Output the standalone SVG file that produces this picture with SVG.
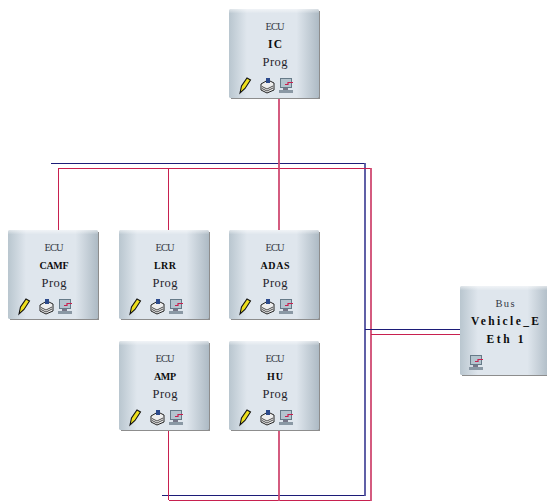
<svg xmlns="http://www.w3.org/2000/svg" width="547" height="501" viewBox="0 0 547 501">
<style>
text{font-family:"Liberation Serif",serif;text-anchor:middle}
.t{font-size:10.500px;fill:#333843}
.n{font-size:11.500px;font-weight:bold;fill:#0c0c0c}
.s{font-size:10px;font-weight:bold;fill:#0c0c0c}
.p{font-size:12.500px;fill:#1f232b}
.r{fill:none;stroke:#c8204f;stroke-width:1}
.rs{fill:none;stroke:#d04a72;stroke-width:1.800}
.b{fill:none;stroke:#1c1c78;stroke-width:1}
.bs{fill:none;stroke:#4f4f9e;stroke-width:1.800}
</style>
<defs>
<linearGradient id="g" x1="0" x2="1" y1="0" y2="0">
<stop offset="0" stop-color="#b9c6cf"/><stop offset=".2" stop-color="#dfe6ed"/><stop offset=".75" stop-color="#dfe6ed"/><stop offset="1" stop-color="#adbac4"/>
</linearGradient>
<linearGradient id="h" x1="0" x2="0" y1="0" y2="1">
<stop offset="0" stop-color="#fff" stop-opacity=".55"/><stop offset=".05" stop-color="#fff" stop-opacity="0"/>
</linearGradient>
<g id="box"><path d="M2 2H91V90H2Z" fill="#8d8d8d"/><path d="M1 0H89L90 1V88L89 89H1L0 88V1Z" fill="url(#g)"/><rect width="90" height="89" fill="url(#h)"/></g>
<g id="pen"><path d="M0 15 L1.500 8 L7 0 L10.500 2 L5 10.500 Z" fill="#efe01e" stroke="#111" stroke-width="1.100"/></g>
<g id="stack"><path d="M1 6 L8 2 L14 5 L14 12 L7 15 L1 12 Z" fill="#eee" stroke="#222"/><path d="M2 8.500 L7 11 L13 8 M2 10.500 L7 13 L13 10" fill="none" stroke="#222" stroke-width=".8"/><rect x="6" y="0" width="4" height="5" fill="#2c4a8c"/></g>
<g id="pc"><rect x="1.500" y=".5" width="11" height="9" fill="#b4c4ce" stroke="#667a88"/><path d="M6 6.500 H9 V4.500 H14" fill="none" stroke="#c8204f" stroke-width="1.200"/><rect x="4" y="10" width="5" height="2" fill="#778"/><rect x="0" y="12" width="14" height="3" fill="#8a98a4"/></g>
</defs>
<g id="connectors">
<path class="b" d="M51 163.500H365"/>
<path class="b" d="M162 495.500H365"/>
<path class="bs" d="M365 163V496"/>
<path class="r" d="M58 168.500H371"/>
<path class="r" d="M169 500.500H371"/>
<path class="r" d="M58.500 168V231"/>
<path class="rs" d="M371 168V501"/>
<path class="r" d="M168.500 168V231"/>
<path class="rs" d="M279 98V231"/>
<path class="r" d="M168.500 431V500"/>
<path class="rs" d="M279 431V501"/>
<path class="b" d="M365 329.500H460"/>
<path class="r" d="M371 334.500H460"/>
</g>
<g id="IC" transform="translate(229,9)"><use href="#box"/><text class="t" x="46" y="20.500" textLength="19">ECU</text><text class="n" x="46" y="39" textLength="14">IC</text><text class="p" x="46" y="57" textLength="25">Prog</text><use href="#pen" x="11" y="69"/><use href="#stack" x="31" y="69"/><use href="#pc" x="50" y="69"/></g>
<g id="CAMF" transform="translate(8,230)"><use href="#box"/><text class="t" x="46" y="20.500" textLength="19">ECU</text><text class="s" x="46" y="39" textLength="29">CAMF</text><text class="p" x="46" y="57" textLength="25">Prog</text><use href="#pen" x="11" y="69"/><use href="#stack" x="31" y="69"/><use href="#pc" x="50" y="69"/></g>
<g id="LRR" transform="translate(119,230)"><use href="#box"/><text class="t" x="46" y="20.500" textLength="19">ECU</text><text class="s" x="46" y="39" textLength="22">LRR</text><text class="p" x="46" y="57" textLength="25">Prog</text><use href="#pen" x="11" y="69"/><use href="#stack" x="31" y="69"/><use href="#pc" x="50" y="69"/></g>
<g id="ADAS" transform="translate(229,230)"><use href="#box"/><text class="t" x="46" y="20.500" textLength="19">ECU</text><text class="s" x="46" y="39" textLength="29">ADAS</text><text class="p" x="46" y="57" textLength="25">Prog</text><use href="#pen" x="11" y="69"/><use href="#stack" x="31" y="69"/><use href="#pc" x="50" y="69"/></g>
<g id="AMP" transform="translate(119,341)"><use href="#box"/><text class="t" x="46" y="20.500" textLength="19">ECU</text><text class="s" x="46" y="39" textLength="22">AMP</text><text class="p" x="46" y="57" textLength="25">Prog</text><use href="#pen" x="11" y="69"/><use href="#stack" x="31" y="69"/><use href="#pc" x="50" y="69"/></g>
<g id="HU" transform="translate(229,341)"><use href="#box"/><text class="t" x="46" y="20.500" textLength="19">ECU</text><text class="s" x="46" y="39" textLength="16">HU</text><text class="p" x="46" y="57" textLength="25">Prog</text><use href="#pen" x="11" y="69"/><use href="#stack" x="31" y="69"/><use href="#pc" x="50" y="69"/></g>
<g id="Bus" transform="translate(460,286)"><use href="#box"/><text class="t" x="45" y="20.500" textLength="19">Bus</text><text class="n" x="45" y="39" textLength="68">Vehicle_E</text><text class="n" x="45" y="57" textLength="37">Eth 1</text><use href="#pc" x="9" y="69"/></g>
</svg>
